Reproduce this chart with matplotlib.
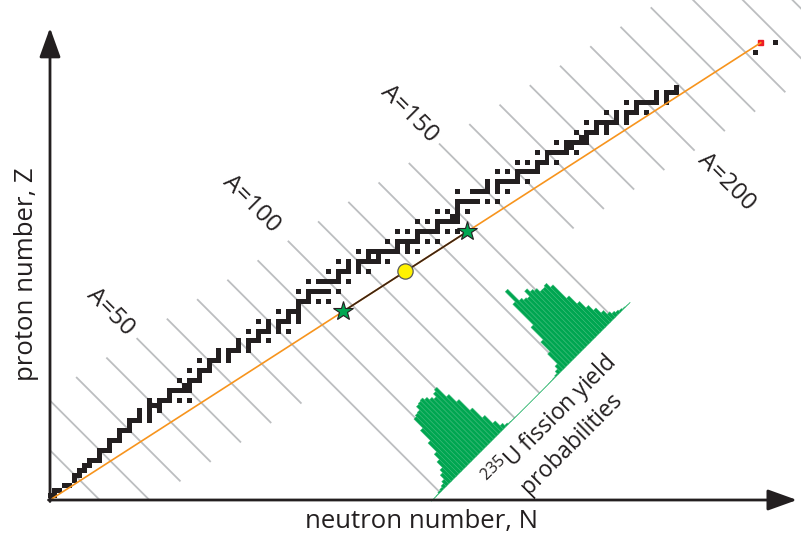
import numpy as np
import matplotlib
matplotlib.use("Agg")
import matplotlib.pyplot as plt
from matplotlib.collections import PolyCollection, LineCollection

plt.rcParams['font.family'] = ['Open Sans', 'DejaVu Sans']
plt.rcParams['mathtext.fontset'] = 'custom'
plt.rcParams['mathtext.rm'] = 'Open Sans'

### data

# stable (and primordial) nuclides: Z -> mass numbers A
stable = {
    1: [1, 2], 2: [3, 4], 3: [6, 7], 4: [9], 5: [10, 11], 6: [12, 13], 7: [14, 15],
    8: [16, 17, 18], 9: [19], 10: [20, 21, 22], 11: [23], 12: [24, 25, 26], 13: [27],
    14: [28, 29, 30], 15: [31], 16: [32, 33, 34, 36], 17: [35, 37], 18: [36, 38, 40],
    19: [39, 40, 41], 20: [40, 42, 43, 44, 46, 48], 21: [45], 22: [46, 47, 48, 49, 50],
    23: [50, 51], 24: [50, 52, 53, 54], 25: [55], 26: [54, 56, 57, 58], 27: [59],
    28: [58, 60, 61, 62, 64], 29: [63, 65], 30: [64, 66, 67, 68, 70], 31: [69, 71],
    32: [70, 72, 73, 74, 76], 33: [75], 34: [74, 76, 77, 78, 80, 82], 35: [79, 81],
    36: [78, 80, 82, 83, 84, 86], 37: [85, 87], 38: [84, 86, 87, 88], 39: [89],
    40: [90, 91, 92, 94, 96], 41: [93], 42: [92, 94, 95, 96, 97, 98, 100],
    44: [96, 98, 99, 100, 101, 102, 104], 45: [103], 46: [102, 104, 105, 106, 108, 110],
    47: [107, 109], 48: [106, 108, 110, 111, 112, 113, 114, 116], 49: [113, 115],
    50: [112, 114, 115, 116, 117, 118, 119, 120, 122, 124], 51: [121, 123],
    52: [120, 122, 123, 124, 125, 126, 128, 130], 53: [127],
    54: [124, 126, 128, 129, 130, 131, 132, 134, 136], 55: [133],
    56: [130, 132, 134, 135, 136, 137, 138], 57: [138, 139], 58: [136, 138, 140, 142],
    59: [141], 60: [142, 143, 144, 145, 146, 148, 150], 62: [144, 147, 148, 149, 150, 152, 154],
    63: [151, 153], 64: [152, 154, 155, 156, 157, 158, 160], 65: [159],
    66: [156, 158, 160, 161, 162, 163, 164], 67: [165], 68: [162, 164, 166, 167, 168, 170],
    69: [169], 70: [168, 170, 171, 172, 173, 174, 176], 71: [175, 176],
    72: [174, 176, 177, 178, 179, 180], 73: [180, 181], 74: [180, 182, 183, 184, 186],
    75: [185, 187], 76: [184, 186, 187, 188, 189, 190, 192], 77: [191, 193],
    78: [190, 192, 194, 195, 196, 198], 79: [197], 80: [196, 198, 199, 200, 201, 202, 204],
    81: [203, 205], 82: [204, 206, 207, 208], 83: [209],
}

# long lived actinides
actinide_N = [142, 146]
actinide_Z = [90, 92]
u235_N, u235_Z = 143, 92

# fission fragment pair and mid point (mass numbers)
frag_A = [97, 138]
mid_A = 117.5

# 235U thermal fission chain yields (%)
yield_A = list(range(77, 157))
yield_pct = [0.008, 0.021, 0.045, 0.13, 0.20, 0.33, 0.54, 1.00,
             1.32, 1.96, 2.56, 3.57, 4.74, 5.78, 5.91, 5.97, 6.35, 6.43, 6.50, 6.28,
             5.99, 5.78, 6.11, 6.29, 5.18, 4.30, 3.03, 1.88, 0.96, 0.40, 0.15, 0.054,
             0.031, 0.025, 0.018, 0.013, 0.014, 0.012, 0.011, 0.010, 0.011, 0.011,
             0.011, 0.013, 0.013, 0.016, 0.016, 0.027, 0.034, 0.059, 0.13, 0.35, 0.66,
             1.80, 2.89, 4.31, 6.70, 7.87, 6.54, 6.31, 6.19, 6.77, 6.41, 6.22, 5.85,
             5.84, 5.96, 5.50, 3.93, 3.00, 2.25, 1.67, 1.08, 0.65, 0.42, 0.27, 0.16,
             0.074, 0.033, 0.013]

iso_A = list(range(10, 260, 10))
label_A = [50, 100, 150, 200]
label_N = [12.1, 40.5, 72.2, 136.0]

### figure: 1 nucleon = k pixels
k = 4.97
W, H = 801, 535
x0, y0 = 50, 500
fig = plt.figure(figsize=(W / 100, H / 100), dpi=100)
ax = fig.add_axes([0, 0, 1, 1])
ax.set_xlim(-x0 / k, (W - x0) / k)
ax.set_ylim(-(H - y0) / k, y0 / k)
ax.axis('off')

dark = '#231f20'
ratio = u235_Z / u235_N
base = 77.0          # histogram baseline N - Z
pct = 12.2 / k       # length per percent

## iso-A lines
segs = []
for A in iso_A:
    n0 = A / (1 + ratio)
    ns = max(n0 - 13, 0)
    if 80 <= A <= 150:
        ne = (A + base) / 2
    else:
        ne = min(n0 + 8, A)
    segs.append([(ns, A - ns), (ne, A - ne)])
ax.add_collection(LineCollection(segs, colors='#bcbec0', linewidths=1.3, zorder=1))

for A, n in zip(label_A, label_N):
    ax.text(n, A - n, 'A=%d' % A, rotation=-45, ha='center', va='center',
            rotation_mode='anchor', fontsize=17.5, color=dark)

## fission yield histograms, bars along the iso-A direction
bars = []
for A, y in zip(yield_A, yield_pct):
    n, z = (A + base) / 2, (A - base) / 2
    L = y * pct / np.sqrt(2)
    p1 = (n - 0.25, z - 0.25)
    p2 = (n + 0.25, z + 0.25)
    bars.append([p1, p2, (p2[0] - L, p2[1] + L), (p1[0] - L, p1[1] + L)])
ax.add_collection(PolyCollection(bars, facecolors='#00a651', edgecolors='#33b872',
                                 linewidths=0.3, zorder=2))

## nuclide squares
cells = []
for Z, As in stable.items():
    for A in As:
        N = A - Z
        cells.append([(N - 0.5, Z - 0.5), (N + 0.5, Z - 0.5), (N + 0.5, Z + 0.5), (N - 0.5, Z + 0.5)])
for N, Z in zip(actinide_N, actinide_Z):
    cells.append([(N - 0.5, Z - 0.5), (N + 0.5, Z - 0.5), (N + 0.5, Z + 0.5), (N - 0.5, Z + 0.5)])
ax.add_collection(PolyCollection(cells, facecolors=dark, edgecolors='none', zorder=3))
ax.add_patch(plt.Rectangle((u235_N - 0.5, u235_Z - 0.5), 1, 1, color='#ed1c24', zorder=3))

## line to 235U, fragments
ax.plot([0, u235_N], [0, u235_Z], color='#f7941d', lw=1.2, zorder=4)
fn = [A / (1 + ratio) for A in frag_A]
fz = [A - n for A, n in zip(frag_A, fn)]
ax.plot(fn, fz, color='#3b2314', lw=1.2, zorder=5)
ax.plot(fn, fz, '*', ms=15, mfc='#00a651', mec=dark, mew=0.8, zorder=6)
mn = mid_A / (1 + ratio)
ax.plot(mn, mid_A - mn, 'o', ms=11, mfc='#fff200', mec='#58595b', mew=0.9, zorder=6)

ax.text(102.5, 13.9, '$^{235}$U fission yield\nprobabilities', rotation=45,
        ha='center', va='center', rotation_mode='anchor', multialignment='center',
        fontsize=16.5, color=dark, zorder=7)

## axes arrows
arr = dict(arrowstyle='-|>,head_length=1.0,head_width=0.36', mutation_scale=18,
           lw=2, color=dark, shrinkA=0, shrinkB=0)
ax.annotate('', xy=(150.3, 0), xytext=(-0.3, 0), arrowprops=arr, zorder=8)
ax.annotate('', xy=(0, 95.0), xytext=(0, -0.3), arrowprops=arr, zorder=8)

ax.text(74.8, -4.3, 'neutron number, N', ha='center', va='center', fontsize=18.5, color=dark)
ax.text(-4.8, 45.5, 'proton number, Z', ha='center', va='center', rotation=90,
        fontsize=18.5, color=dark)

plt.savefig('out.png', dpi=100)
